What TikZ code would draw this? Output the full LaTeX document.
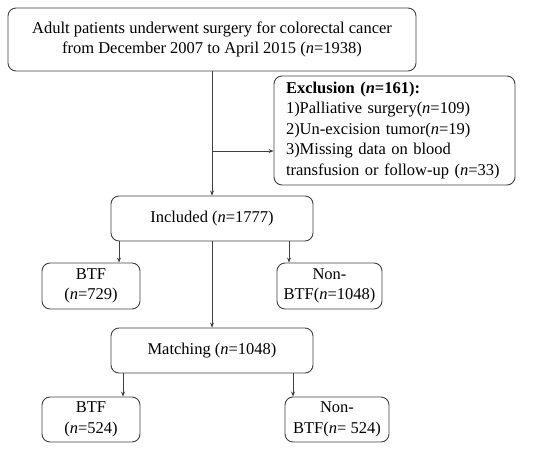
\documentclass[tikz,border=0pt]{standalone}
\usepackage{fontspec}
\setmainfont{Liberation Serif}
\usetikzlibrary{arrows.meta}
\begin{document}
\begin{tikzpicture}[x=1pt,y=-1pt,
  box/.style={draw=black!75, line width=0.9pt, rounded corners=8pt, align=center, inner sep=0pt, font=\fontsize{16.5}{20.5}\selectfont},
  arr/.style={draw=black!75, line width=0.7pt, -{Stealth[length=5pt,width=4pt]}},
  ln/.style={draw=black!75, line width=0.7pt}]
\useasboundingbox (0,0) rectangle (550,451);
\node[box, minimum width=408pt, minimum height=63pt] (top) at (212,39.5) {Adult patients underwent surgery for colorectal cancer\\from December 2007 to April 2015 (\textit{n}=1938)};
\node[box, minimum width=241pt, minimum height=109pt, align=left, text width=217pt] (excl) at (394.5,130.5) {\textbf{Exclusion (\textit{n}=161):}\\1)Palliative surgery(\textit{n}=109)\\2)Un-excision tumor(\textit{n}=19)\\3)Missing data on blood\\transfusion or follow-up (\textit{n}=33)};
\node[box, minimum width=202pt, minimum height=45pt] (incl) at (212,218.5) {Included (\textit{n}=1777)};
\node[box, minimum width=98pt, minimum height=46pt] (btfa) at (91,286) {BTF\\(\textit{n}=729)};
\node[box, minimum width=105pt, minimum height=46pt] (nbtfa) at (329.5,286) {Non-\\BTF(\textit{n}=1048)};
\node[box, minimum width=202pt, minimum height=45pt] (match) at (212,350.5) {Matching (\textit{n}=1048)};
\node[box, minimum width=98pt, minimum height=45pt] (btfb) at (91,419.5) {BTF\\(\textit{n}=524)};
\node[box, minimum width=104pt, minimum height=45pt] (nbtfb) at (337,419.5) {Non-\\BTF(\textit{n}= 524)};
\coordinate (j) at (212,151);
\draw[arr] (top.south) -- (incl.north);
\draw[arr] (j) -- (j -| excl.west);
\draw[arr] ([xshift=-93pt]incl.south) -- ([xshift=-93pt]incl.south |- btfa.north);
\draw[arr] ([xshift=77pt]incl.south) -- ([xshift=77pt]incl.south |- nbtfa.north);
\draw[arr] (incl.south) -- (match.north);
\draw[arr] ([xshift=-89pt]match.south) -- ([xshift=-89pt]match.south |- btfb.north);
\draw[arr] ([xshift=81pt]match.south) -- ([xshift=81pt]match.south |- nbtfb.north);
\end{tikzpicture}
\end{document}
